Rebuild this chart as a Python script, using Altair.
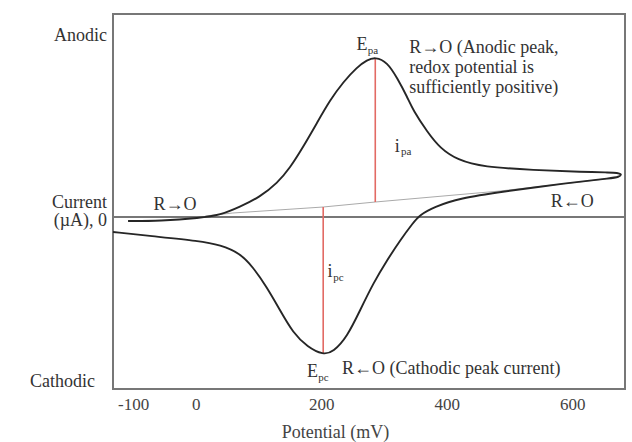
import altair as alt
import pandas as pd

# ---- data (potential in mV, current in µA, arbitrary scale) ----
cv_potential = [-108, -57, 7, 39, 70, 102, 130, 150, 171, 193,
                214, 235, 257, 273, 286, 305, 321, 337, 346, 369,
                389, 417, 458, 538, 618, 661, 671, 680, 673, 666,
                592, 485, 422, 379, 357, 346, 326, 305, 283, 262,
                241, 219, 203, 178, 155, 134, 113, 91, 70, 39,
                7, -73, -132]
cv_current = [-0.4, -0.4, -0.1, 0.2, 1.0, 2.0, 3.4, 4.9, 7.0, 9.4,
              11.7, 13.5, 15.0, 15.7, 16.0, 15.5, 13.9, 12.0, 10.7, 8.5,
              6.9, 5.7, 5.0, 4.7, 4.5, 4.45, 4.43, 4.25, 4.0, 3.9,
              3.4, 2.5, 1.9, 1.0, 0.2, -0.6, -2.3, -4.3, -6.6, -9.3,
              -12.0, -13.5, -13.8, -13.0, -11.6, -9.3, -7.0, -5.0, -3.6, -2.8,
              -2.4, -1.9, -1.5]

baseline_potential = [15, 59, 203, 286, 485, 666]
baseline_current = [0.1, 0.4, 1.0, 1.5, 2.6, 3.9]

epa_potential = 286
epa_current = [1.5, 15.9]
epc_potential = 203
epc_current = [1.0, -13.7]

x_ticks = [-100, 0, 200, 400, 600]

FONT = "Liberation Serif"
TXT = "#333333"
FS = 18

cv = pd.DataFrame({"potential": cv_potential, "current": cv_current,
                   "order": list(range(len(cv_potential)))})
base = pd.DataFrame({"potential": baseline_potential, "current": baseline_current})
peaks = pd.DataFrame({
    "potential": [epa_potential, epc_potential],
    "y1": [epa_current[0], epc_current[0]],
    "y2": [epa_current[1], epc_current[1]],
})

xs = alt.Scale(domain=[-132, 684], nice=False, zero=False)
ys = alt.Scale(domain=[-17.2, 20.3], nice=False, zero=False)

X = alt.X("potential:Q", scale=xs,
          axis=alt.Axis(values=x_ticks, ticks=False, domain=False, grid=False,
                        labelExpr="'' + datum.value",
                        labelFont=FONT, labelFontSize=17, labelColor="#444",
                        labelPadding=7, title="Potential (mV)",
                        titleFont=FONT, titleFontSize=18, titleFontWeight="normal",
                        titleColor="#444", titleX=222, titleY=43,
                        titleBaseline="middle"))
Y = alt.Y("current:Q", scale=ys, axis=None)

zero_rule = alt.Chart(pd.DataFrame({"current": [0]})).mark_rule(
    color="#777", strokeWidth=2).encode(y=alt.Y("current:Q", scale=ys, axis=None))

baseline = alt.Chart(base).mark_line(color="#aaaaaa", strokeWidth=1).encode(x=X, y=Y)

red = alt.Chart(peaks).mark_rule(color="#e26a64", strokeWidth=1.6).encode(
    x=alt.X("potential:Q", scale=xs),
    y=alt.Y("y1:Q", scale=ys, axis=None), y2="y2:Q")

curve = alt.Chart(cv).mark_line(color="#262626", strokeWidth=1.9,
                                interpolate="basis").encode(
    x=X, y=Y, order="order:Q")


def texts(rows, align="center", size=FS, baseline="middle"):
    df = pd.DataFrame(rows, columns=["label", "potential", "current"])
    return alt.Chart(df).mark_text(align=align, baseline=baseline, font=FONT,
                                   fontSize=size, color=TXT).encode(
        x=alt.X("potential:Q", scale=xs),
        y=alt.Y("current:Q", scale=ys, axis=None),
        text="label:N")


center_txt = texts([["R→O", -33, 1.2], ["R←O", 600, 1.5],
                    ["E", 265, 17.2], ["i", 321, 7.0],
                    ["i", 214, -5.5], ["E", 186, -15.5]])
sub_txt = texts([["pa", 274, 16.6], ["pa", 327, 6.5],
                 ["pc", 219, -6.1], ["pc", 195, -16.1]], align="left", size=11)
left_txt = texts([["R→O (Anodic peak,", 340, 16.9],
                  ["redox potential is", 340, 14.9],
                  ["sufficiently positive)", 340, 12.9],
                  ["R←O (Cathodic peak current)", 233, -15.2]], align="left")

side = pd.DataFrame({"label": ["Anodic", "Current", "(µA), 0"],
                     "current": [18.1, 1.4, -0.4]})
side_txt = alt.Chart(side).mark_text(align="right", baseline="middle", font=FONT,
                                     fontSize=FS, color=TXT).encode(
    x=alt.value(-6), y=alt.Y("current:Q", scale=ys, axis=None), text="label:N")
cath = pd.DataFrame({"label": ["Cathodic"], "current": [-16.5]})
cath_txt = alt.Chart(cath).mark_text(align="right", baseline="middle", font=FONT,
                                     fontSize=FS, color=TXT).encode(
    x=alt.value(-18), y=alt.Y("current:Q", scale=ys, axis=None), text="label:N")

chart = alt.layer(zero_rule, baseline, red, curve, center_txt, sub_txt, left_txt,
                  side_txt, cath_txt).properties(
    width=512, height=375,
    autosize=alt.AutoSizeParams(type="none"),
    padding={"left": 113, "top": 14, "right": 7, "bottom": 53},
    background="white",
).configure_view(stroke="#777", strokeWidth=2)

chart.save("out.html", embed_options={"renderer": "svg", "actions": False})
